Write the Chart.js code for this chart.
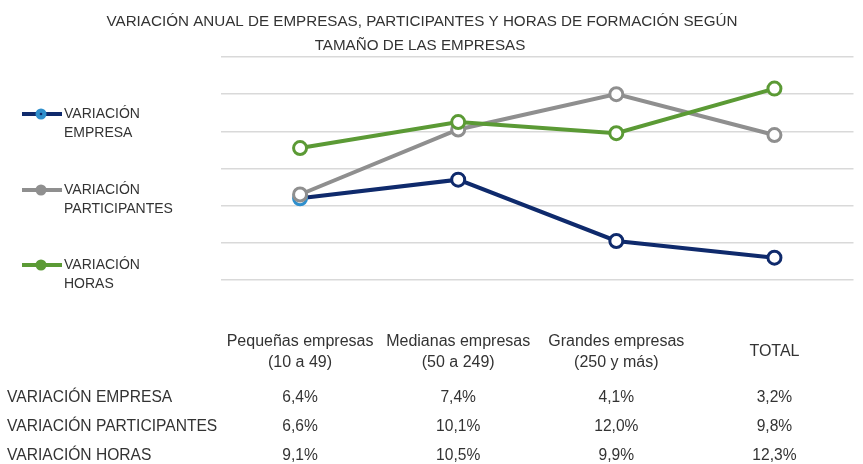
<!DOCTYPE html>
<html lang="es">
<head>
<meta charset="utf-8">
<script src="https://cdn.jsdelivr.net/npm/chart.js@4"></script>
<style>
  html, body { margin: 0; padding: 0; background: #ffffff; }
  #wrap { position: relative; width: 863px; height: 464px; }
</style>
</head>
<body>
<div id="wrap"><canvas id="grafico" width="863" height="464"></canvas></div>
<script>
// Categorías (tamaño de empresa), en dos líneas cuando hace falta
const categorias = [
  ['Pequeñas empresas', '(10 a 49)'],
  ['Medianas empresas', '(50 a 249)'],
  ['Grandes empresas', '(250 y más)'],
  ['TOTAL']
];

// Variación anual (%)
const varEmpresa        = [6.4, 7.4, 4.1, 3.2];
const varParticipantes  = [6.6, 10.1, 12.0, 9.8];
const varHoras          = [9.1, 10.5, 9.9, 12.3];

// Escala vertical
const ejeMin = 2;
const ejeMax = 14;
const ejePaso = 2;

const titulo = [
  'VARIACIÓN ANUAL DE EMPRESAS, PARTICIPANTES Y HORAS DE FORMACIÓN SEGÚN',
  'TAMAÑO DE LAS EMPRESAS'
];

const FUENTE = '"Liberation Sans", Arial, sans-serif';
const TEXTO = '#333333';

const series = [
  { nombre: ['VARIACIÓN', 'EMPRESA'], tabla: 'VARIACIÓN EMPRESA', datos: varEmpresa,
    color: '#0f2a6c', marca: '#2f8fcc', orden: 3 },
  { nombre: ['VARIACIÓN', 'PARTICIPANTES'], tabla: 'VARIACIÓN PARTICIPANTES', datos: varParticipantes,
    color: '#8f8f8f', marca: '#8f8f8f', orden: 2 },
  { nombre: ['VARIACIÓN', 'HORAS'], tabla: 'VARIACIÓN HORAS', datos: varHoras,
    color: '#5b9a35', marca: '#5b9a35', orden: 1 }
];

const fmt = v => v.toFixed(1).replace('.', ',') + '%';

// Título, leyenda a la izquierda y tabla de datos bajo el gráfico
const decoracion = {
  id: 'decoracion',
  afterDraw(chart) {
    const ctx = chart.ctx;
    const x = chart.scales.x;
    ctx.save();
    ctx.fillStyle = TEXTO;
    ctx.textBaseline = 'middle';

    // Título
    ctx.textAlign = 'center';
    ctx.font = '15.2px ' + FUENTE;
    ctx.fillText(titulo[0], 422, 22);
    ctx.fillText(titulo[1], 420, 46);

    // Leyenda
    const filasLeyenda = [114, 190, 265];
    series.forEach((s, i) => {
      const y = filasLeyenda[i];
      ctx.strokeStyle = s.color;
      ctx.lineWidth = 4;
      ctx.beginPath();
      ctx.moveTo(22, y);
      ctx.lineTo(62, y);
      ctx.stroke();
      ctx.beginPath();
      ctx.arc(41, y, 5.5, 0, Math.PI * 2);
      ctx.fillStyle = s.marca;
      ctx.fill();
      if (i === 0) {
        ctx.beginPath();
        ctx.arc(41, y, 1.3, 0, Math.PI * 2);
        ctx.fillStyle = s.color;
        ctx.fill();
      }
      ctx.fillStyle = TEXTO;
      ctx.textAlign = 'left';
      ctx.font = '14px ' + FUENTE;
      ctx.fillText(s.nombre[0], 64, y);
      ctx.fillText(s.nombre[1], 64, y + 19);
    });

    // Etiquetas de categoría
    ctx.textAlign = 'center';
    ctx.font = '16px ' + FUENTE;
    categorias.forEach((c, i) => {
      const cx = x.getPixelForValue(i);
      if (c.length === 2) {
        ctx.fillText(c[0], cx, 342);
        ctx.fillText(c[1], cx, 363);
      } else {
        ctx.fillText(c[0], cx, 352);
      }
    });

    // Tabla de datos
    const filasTabla = [398, 427, 456];
    ctx.font = '15.6px ' + FUENTE;
    series.forEach((s, r) => {
      const y = filasTabla[r];
      ctx.textAlign = 'left';
      ctx.fillText(s.tabla, 7, y);
      ctx.textAlign = 'center';
      s.datos.forEach((v, i) => ctx.fillText(fmt(v), x.getPixelForValue(i), y));
    });
    ctx.restore();
  }
};

new Chart(document.getElementById('grafico'), {
  type: 'line',
  data: {
    labels: categorias.map(c => c.join(' ')),
    datasets: series.map(s => ({
      label: s.tabla,
      data: s.datos,
      order: s.orden,
      borderColor: s.color,
      borderWidth: 4,
      pointRadius: 6.5,
      pointBorderWidth: 3,
      pointBorderColor: s.datos.map((_, i) => (i === 0 ? s.marca : s.color)),
      pointBackgroundColor: '#ffffff',
      tension: 0,
      fill: false
    }))
  },
  options: {
    responsive: false,
    animation: false,
    events: [],
    layout: { padding: { left: 221, top: 57, right: 0, bottom: 184 } },
    plugins: {
      legend: { display: false },
      title: { display: false },
      tooltip: { enabled: false }
    },
    scales: {
      x: {
        type: 'category',
        offset: true,
        grid: { display: false },
        border: { display: false },
        ticks: { display: false },
        afterFit: s => { s.height = 0; }
      },
      y: {
        min: ejeMin,
        max: ejeMax,
        ticks: { display: false, stepSize: ejePaso },
        grid: { color: '#d9d9d9', lineWidth: 1.5, drawTicks: false },
        border: { display: false },
        afterFit: s => { s.width = 0; }
      }
    }
  },
  plugins: [decoracion]
});
</script>
</body>
</html>
